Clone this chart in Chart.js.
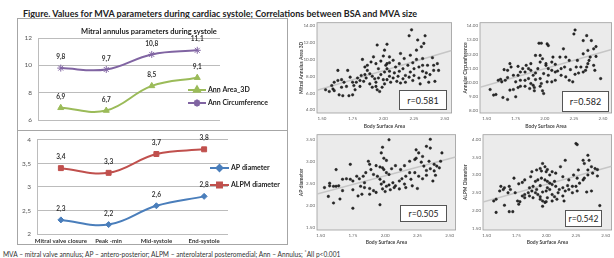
<!DOCTYPE html>
<html>
<head>
<meta charset="utf-8">
<script src="https://cdn.jsdelivr.net/npm/chart.js"></script>
<style>
  html, body { margin: 0; padding: 0; background: #fff; overflow: hidden; }
  body { width: 614px; height: 258px; position: relative; font-family: Lato, "Open Sans", sans-serif; }
  .abs { position: absolute; }
  canvas { position: absolute; }
  #title { left: 23px; top: 9px; font-size: 9px; line-height: 10px; font-weight: bold; color: #222; white-space: nowrap; }
  #note { left: 3px; top: 250px; font-size: 6.6px; line-height: 8px; color: #333; white-space: nowrap; }
  #note sup { font-size: 5px; vertical-align: top; line-height: 5px; }
  .panel { border: 1px solid #a6a6a6; box-sizing: border-box; }
  .rbox { border: 1.5px solid #555; background: #fff; box-sizing: border-box; font-size: 9px; color: #222;
          display: flex; align-items: center; justify-content: center; }
</style>
</head>
<body>
<div id="title" class="abs">Figure. Values for MVA parameters during cardiac systole; Correlations between BSA and MVA size</div>

<div class="abs panel" style="left:17px;top:18px;width:271px;height:113px;"></div>
<div class="abs panel" style="left:17px;top:130px;width:271px;height:115px;"></div>
<canvas id="topLine" width="271" height="112" style="left:17px;top:18px;"></canvas>
<canvas id="bottomLine" width="271" height="115" style="left:17px;top:130px;"></canvas>

<canvas id="scAreaTL" width="160" height="114" style="left:296px;top:18px;"></canvas>
<canvas id="scCircTR" width="160" height="114" style="left:456px;top:18px;"></canvas>
<canvas id="scApBL" width="164" height="118" style="left:296px;top:130px;"></canvas>
<canvas id="scAlpmBR" width="160" height="118" style="left:456px;top:130px;"></canvas>

<div class="abs rbox" style="left:399px;top:90px;width:48px;height:20px;">r=0.581</div>
<div class="abs rbox" style="left:562px;top:91px;width:47px;height:21px;">r=0.582</div>
<div class="abs rbox" style="left:400px;top:205px;width:47px;height:17px;font-size:8.5px;">r=0.505</div>
<div class="abs rbox" style="left:565px;top:210px;width:37px;height:17px;font-size:8.5px;">r=0.542</div>

<div id="note" class="abs">MVA – mitral valve annulus; AP – antero-posterior; ALPM – anterolateral posteromedial; Ann – Annulus; <sup>*</sup>All p&lt;0.001</div>

<script>
// line charts
const stages = ['Mitral valve closure', 'Peak -min', 'Mid-systole', 'End-systole'];
const annArea3D = [6.9, 6.7, 8.5, 9.1];
const annCircumference = [9.8, 9.7, 10.8, 11.1];
const apDiameter = [2.3, 2.2, 2.6, 2.8];
const alpmDiameter = [3.4, 3.3, 3.7, 3.8];
const topTicks = [6, 8, 10, 12];
const bottomTicks = [2, 2.5, 3, 3.5, 4];

// scatter plots: [BSA, value]
const bsaTicks = [1.5, 1.75, 2.0, 2.25, 2.5];
const areaTicks = [4, 6, 8, 10, 12, 14];
const circTicks = [8, 9, 10, 11, 12, 13, 14];
const apTicks = [1.5, 2.0, 2.5, 3.0, 3.5];
const alpmTicks = [1.5, 2.0, 2.5, 3.0, 3.5, 4.0];

const areaPoints = [
  [2.23,13.5],[2.21,12.8],[2.34,12.8],[2.28,12.3],[2.33,11.9],[1.95,11.7],[2.03,11.8],[2.01,11.1],
  [2.14,10.7],[2.31,11.5],[2.27,11.1],[1.83,10.0],[1.90,9.7],[1.94,9.5],[1.98,9.8],[2.03,9.5],
  [2.05,9.6],[2.08,9.9],[1.63,8.7],[1.71,8.7],[1.87,8.7],[1.53,6.4],[1.56,6.2],[1.59,6.5],
  [1.60,7.3],[1.63,7.5],[1.66,7.6],[1.68,7.3],[1.73,7.9],[1.75,7.3],[1.76,6.9],[1.64,5.8],
  [1.67,5.7],[1.72,5.7],[1.75,5.8],[1.77,6.4],[1.81,6.8],[1.84,7.4],[1.86,7.8],[1.89,7.1],
  [1.91,6.7],[1.94,6.8],[1.95,6.4],[1.97,6.2],[1.99,6.7],[2.01,7.1],[2.03,7.6],[2.05,8.0],
  [2.08,7.8],[2.11,7.4],[2.14,7.2],[2.16,7.7],[2.18,8.1],[2.22,8.5],[2.25,8.1],[2.29,7.8],
  [2.32,8.6],[2.35,8.4],[2.38,8.2],[2.42,7.4],[2.41,9.3],[2.36,9.3],[2.40,10.2],[2.32,10.1],
  [2.27,10.0],[2.24,9.6],[2.20,9.3],[2.16,8.9],[2.13,8.6],[2.10,9.1],[2.09,8.4],[2.05,8.6],
  [2.03,8.9],[2.01,8.5],[1.98,8.2],[1.96,7.8],[1.93,7.7],[1.91,8.0],[1.89,8.3],[1.85,8.2],
  [1.82,8.1],[1.79,7.8],[1.78,7.3],[1.81,7.5],[1.70,6.8],[1.66,6.7],[1.60,6.3],[1.58,6.9],
  [1.94,7.3],[2.00,7.6],[2.06,7.3],[2.12,8.0],[2.18,7.3],[2.24,7.5],[2.30,7.1],[2.34,7.9],
  [2.37,7.3],[2.41,8.7],[2.44,9.5],[2.45,8.7],[2.29,9.1],[2.25,8.9],[2.21,7.9],[2.13,9.5],
  [2.05,10.3],[2.00,10.4],[1.92,10.3],[1.87,9.3],[1.85,9.1],[2.02,9.3],[1.96,8.9],[2.17,10.1],
  [2.22,10.5],[2.32,9.3]
];
const circPoints = [
  [1.53,9.51],[1.56,9.12],[1.58,9.16],[1.64,8.95],[1.68,8.81],[1.75,9.00],[1.70,9.47],[1.73,9.51],
  [1.77,9.65],[1.60,10.16],[1.62,10.23],[1.63,10.05],[1.66,10.16],[1.68,10.35],[1.73,10.51],[1.79,10.74],
  [1.83,10.74],[1.84,11.21],[1.88,11.33],[1.70,11.33],[1.77,10.51],[1.83,10.16],[1.86,10.28],[1.88,9.93],
  [1.90,9.81],[1.91,9.65],[1.96,9.74],[1.98,9.42],[1.99,9.23],[1.97,9.93],[1.96,10.28],[1.92,10.67],
  [1.94,10.98],[1.96,11.44],[1.98,11.67],[1.96,11.91],[1.92,11.91],[1.95,12.77],[1.97,12.77],[2.02,12.72],
  [2.03,12.60],[2.01,11.21],[2.03,10.98],[2.06,10.86],[2.09,10.74],[2.11,10.81],[2.14,10.98],[2.17,11.09],
  [2.16,12.37],[2.06,11.44],[2.09,11.28],[2.14,10.51],[2.18,10.40],[2.21,10.16],[2.24,10.05],[2.26,10.58],
  [2.29,10.67],[2.33,10.74],[2.35,10.86],[2.37,11.33],[2.38,11.56],[2.39,11.79],[2.33,12.02],[2.37,12.26],
  [2.42,12.37],[2.44,12.53],[2.40,12.95],[2.33,12.95],[2.36,13.30],[2.26,13.70],[2.25,13.42],[2.44,11.84],
  [2.48,10.28],[2.43,10.86],[2.36,11.09],[2.31,11.09],[2.27,11.09],[2.22,10.91],[1.92,10.21],[1.86,10.98],
  [1.81,10.98],[1.79,10.16],[1.75,10.05],[1.90,10.51],[1.99,10.63],[2.03,10.51],[2.06,10.05],[2.09,10.16],
  [2.02,10.05],[1.87,9.58],[1.91,9.42],[1.83,9.74],[1.79,9.74],[1.65,10.91],[1.68,10.86],[1.71,11.09],
  [1.77,11.14],[1.88,10.86],[2.01,11.33],[2.07,11.79],[2.13,11.79],[2.18,11.79],[2.21,11.56],[2.28,11.56],
  [2.42,11.21]
];
const apPoints = [
  [2.03,3.49],[2.35,3.50],[2.32,3.34],[2.24,3.26],[2.29,3.11],[2.35,3.30],[1.98,3.32],[1.97,3.19],
  [1.99,3.07],[2.01,3.02],[1.87,3.00],[1.88,2.93],[1.93,2.90],[1.96,2.87],[1.98,2.85],[1.99,2.81],
  [2.01,2.74],[2.03,2.70],[2.05,2.83],[2.08,2.90],[2.12,2.81],[2.15,2.90],[2.19,3.00],[2.23,3.04],
  [2.26,3.19],[2.28,2.98],[2.30,2.89],[2.32,2.79],[2.35,2.83],[2.38,2.93],[2.40,2.89],[2.42,2.85],
  [2.43,3.00],[2.34,3.00],[2.24,3.07],[2.39,2.68],[2.37,2.55],[2.32,2.68],[2.26,2.66],[2.23,2.74],
  [2.19,2.74],[2.16,2.66],[2.13,2.60],[2.11,2.55],[2.08,2.44],[2.06,2.51],[2.03,2.46],[2.01,2.43],
  [1.99,2.53],[1.97,2.48],[1.96,2.59],[1.94,2.66],[1.91,2.70],[1.89,2.81],[1.85,2.74],[1.83,2.66],
  [1.80,2.60],[1.78,2.66],[1.75,2.55],[1.73,2.59],[1.70,2.60],[1.67,2.59],[1.64,2.44],[1.62,2.43],
  [1.60,2.43],[1.57,2.44],[1.53,2.40],[1.57,2.50],[1.62,2.81],[1.73,2.93],[1.81,2.43],[1.84,2.51],
  [1.88,2.38],[1.91,2.33],[1.93,2.29],[1.98,2.37],[2.00,2.31],[2.04,2.35],[2.07,2.40],[2.16,2.40],
  [2.21,2.44],[2.25,2.38],[1.88,2.25],[1.82,2.25],[1.75,2.35],[1.67,2.33],[1.65,2.14],[1.60,2.05],
  [1.56,2.20],[1.75,1.93],[1.96,2.01],[1.79,2.21],[1.84,2.40],[2.11,2.37],[2.15,2.48],[2.20,2.59],
  [2.29,2.60],[2.38,2.78],[2.44,3.19]
];
const alpmPoints = [
  [2.25,3.88],[2.26,3.85],[2.35,3.55],[2.36,3.41],[2.31,3.41],[2.32,3.32],[2.16,3.41],[2.12,3.23],
  [1.97,3.32],[1.99,3.23],[1.95,3.18],[2.01,3.15],[1.96,3.11],[2.00,3.09],[1.92,3.14],[1.88,3.09],
  [2.05,3.09],[2.08,3.05],[2.03,3.00],[2.38,3.23],[2.41,3.18],[2.43,3.15],[2.35,3.14],[2.27,3.14],
  [2.23,3.00],[2.26,2.91],[2.31,2.86],[2.35,3.00],[2.39,3.05],[2.43,2.97],[2.32,2.91],[2.28,2.77],
  [2.25,2.68],[2.38,2.55],[2.45,2.14],[2.34,2.52],[2.22,2.68],[2.18,2.70],[2.14,2.64],[2.11,2.59],
  [2.08,2.68],[2.05,2.73],[2.03,2.77],[2.01,2.82],[1.99,2.86],[1.96,2.91],[1.93,2.86],[1.91,2.82],
  [1.89,2.68],[1.86,2.64],[1.87,2.95],[1.82,2.86],[1.80,2.79],[1.77,2.75],[1.73,2.91],[1.69,2.68],
  [1.65,2.64],[1.62,2.68],[1.64,2.59],[1.68,2.50],[1.61,2.55],[1.58,2.32],[1.56,2.27],[1.58,1.95],
  [1.65,2.15],[1.69,1.97],[1.72,1.97],[1.76,2.27],[1.77,2.18],[1.80,2.41],[1.82,2.45],[1.85,2.50],
  [1.88,2.55],[1.91,2.50],[1.93,2.45],[1.95,2.39],[1.97,2.52],[2.00,2.55],[2.03,2.59],[2.05,2.45],
  [2.07,2.39],[2.10,2.50],[2.14,2.41],[2.16,2.55],[2.19,2.59],[2.22,2.50],[2.26,2.55],[1.97,2.27],
  [1.99,2.23],[2.00,2.25],[1.97,2.12],[2.01,2.36],[1.95,2.32],[1.89,2.36],[1.86,2.41],[1.82,2.36],
  [1.78,2.25],[1.74,2.50],[1.70,2.59],[2.05,2.27],[2.09,2.32],[2.15,2.27],[1.92,2.59],[1.95,2.70],
  [2.01,2.64],[2.07,2.82],[2.14,2.95],[2.19,2.86]
];
// fit lines, ends read at the frame edges
const areaFit = [[1.46, 6.35], [2.556, 11.06]];
const circFit = [[1.443, 9.67], [2.574, 12.33]];
const apFit = [[1.472, 2.254], [2.546, 3.097]];
const alpmFit = [[1.47, 2.242], [2.549, 3.243]];

Chart.defaults.font.family = 'Lato, "Open Sans", sans-serif';
const comma = v => String(v).replace('.', ',');

function excelExtras(legendX, legendLen, legendRows, title) {
  return {
    id: 'excelExtras',
    afterDatasetsDraw(chart) {
      const ctx = chart.ctx;
      ctx.save();
      ctx.textBaseline = 'middle';
      ctx.textAlign = 'center';
      ctx.font = 'bold 6.5px Lato';
      ctx.fillStyle = '#333';
      chart.data.datasets.forEach((ds, i) => {
        chart.getDatasetMeta(i).data.forEach((pt, j) => {
          ctx.fillText(comma(ds.data[j]), pt.x, pt.y - 11);
        });
      });
      legendRows.forEach((y, i) => {
        const ds = chart.data.datasets[i];
        ctx.strokeStyle = ds.borderColor;
        ctx.lineWidth = 2;
        ctx.beginPath();
        ctx.moveTo(legendX, y);
        ctx.lineTo(legendX + legendLen, y);
        ctx.stroke();
        ctx.fillStyle = ds.pointBackgroundColor;
        ctx.strokeStyle = ds.pointBorderColor;
        Chart.helpers.drawPoint(ctx, {pointStyle: ds.pointStyle, radius: ds.pointRadius,
          borderWidth: ds.pointBorderWidth, rotation: 0}, legendX + legendLen / 2, y);
        ctx.fillStyle = '#222';
        ctx.textAlign = 'left';
        ctx.font = 'bold 7px Lato';
        ctx.fillText(ds.label, legendX + legendLen + 2, y);
      });
      if (title) {
        ctx.textAlign = 'center';
        ctx.font = 'bold 7.5px Lato';
        ctx.fillStyle = '#222';
        ctx.fillText(title.text, title.x, title.y);
      }
      ctx.restore();
    }
  };
}

function lineSet(label, values, color, style, radius) {
  return {
    label: label, data: values, borderColor: color, borderWidth: 2, tension: 0.4,
    pointStyle: style, pointRadius: radius, pointBackgroundColor: color,
    pointBorderColor: color, pointBorderWidth: 1
  };
}

new Chart(document.getElementById('topLine'), {
  type: 'line',
  data: {
    labels: stages,
    datasets: [
      lineSet('Ann Area_3D', annArea3D, '#9bbb59', 'triangle', 3.5),
      lineSet('Ann Circumference', annCircumference, '#8064a2', 'star', 3.5)
    ]
  },
  options: {
    responsive: false, animation: false, devicePixelRatio: 1,
    layout: { padding: { top: 20, right: 68, bottom: 8, left: 0 } },
    plugins: { legend: { display: false }, tooltip: { enabled: false } },
    scales: {
      x: { display: false, offset: true },
      y: {
        min: 6, max: 12,
        afterBuildTicks: s => { s.ticks = topTicks.map(v => ({ value: v })); },
        afterFit: s => { s.width = 21; },
        grid: { color: '#bcbcbc', drawTicks: false },
        border: { color: '#bcbcbc' },
        ticks: { font: { size: 6.5 }, color: '#555', padding: 6, callback: v => comma(v) }
      }
    }
  },
  plugins: [excelExtras(171, 18, [72, 85], { text: 'Mitral annulus parameters during systole', x: 132, y: 14 })]
});

new Chart(document.getElementById('bottomLine'), {
  type: 'line',
  data: {
    labels: stages,
    datasets: [
      lineSet('AP diameter', apDiameter, '#4a7ebb', 'rectRot', 3),
      lineSet('ALPM diameter', alpmDiameter, '#c0504d', 'rect', 3.5)
    ]
  },
  options: {
    responsive: false, animation: false, devicePixelRatio: 1,
    layout: { padding: { top: 5, right: 60, bottom: 0, left: 0 } },
    plugins: { legend: { display: false }, tooltip: { enabled: false } },
    scales: {
      x: {
        offset: true,
        afterFit: s => { s.height = 11; },
        grid: { display: false, drawTicks: false },
        border: { display: false },
        ticks: { font: { size: 6, weight: 'bold' }, color: '#333', padding: 3, maxRotation: 0, autoSkip: false }
      },
      y: {
        min: 2, max: 4,
        afterBuildTicks: s => { s.ticks = bottomTicks.map(v => ({ value: v })); },
        afterFit: s => { s.width = 20; },
        grid: { color: '#bcbcbc', drawTicks: false },
        border: { color: '#bcbcbc' },
        ticks: { font: { size: 6.5 }, color: '#555', padding: 6, callback: v => comma(v) }
      }
    }
  },
  plugins: [excelExtras(193, 19, [38, 55], null)]
});

const frame = {
  id: 'frame',
  beforeDraw(chart) {
    const { ctx, chartArea: a } = chart;
    ctx.save();
    ctx.fillStyle = '#ebebeb';
    ctx.fillRect(a.left, a.top, a.width, a.height);
    ctx.strokeStyle = '#9c9c9c';
    ctx.lineWidth = 0.8;
    ctx.strokeRect(a.left, a.top, a.width, a.height);
    ctx.restore();
  }
};

function scatterChart(id, points, fit, yTicks, xRange, yRange, yTitle, geo) {
  new Chart(document.getElementById(id), {
    type: 'scatter',
    data: {
      datasets: [
        { type: 'line', data: fit.map(p => ({ x: p[0], y: p[1] })), borderColor: '#c6c6c6',
          borderWidth: 1.5, pointRadius: 0, order: 2 },
        { data: points.map(p => ({ x: p[0], y: p[1] })), pointRadius: 1.3,
          backgroundColor: '#2a2a2a', borderColor: '#111', borderWidth: 0.4, order: 1 }
      ]
    },
    options: {
      responsive: false, animation: false, devicePixelRatio: 1,
      layout: { padding: { top: geo.top, right: geo.right, bottom: 0, left: 0 } },
      plugins: { legend: { display: false }, tooltip: { enabled: false } },
      scales: {
        x: {
          type: 'linear', min: xRange[0], max: xRange[1],
          afterBuildTicks: s => { s.ticks = bsaTicks.map(v => ({ value: v })); },
          afterFit: s => { s.height = geo.xh; },
          grid: { display: false, drawTicks: false }, border: { display: false },
          ticks: { font: { size: 4.5 }, color: '#666', padding: 2.5, maxRotation: 0, autoSkip: false,
                   callback: v => v.toFixed(2) },
          title: { display: true, text: 'Body Surface Area', font: { size: 5, weight: 'bold' }, color: '#444',
                   padding: { top: 0, bottom: 3 } }
        },
        y: {
          type: 'linear', min: yRange[0], max: yRange[1],
          afterBuildTicks: s => { s.ticks = yTicks.map(v => ({ value: v })); },
          afterFit: s => { s.width = geo.yw; },
          grid: { display: false, drawTicks: false }, border: { display: false },
          ticks: { font: { size: 4.5 }, color: '#666', padding: 2, callback: v => v.toFixed(2) },
          title: { display: true, text: yTitle, font: { size: 5, weight: 'bold' }, color: '#444',
                   padding: { top: geo.tp, bottom: 0 } }
        }
      }
    },
    plugins: [frame]
  });
}

scatterChart('scAreaTL', areaPoints, areaFit, areaTicks, [1.46, 2.556], [3.65, 14.35],
  'Mitral Annulus Area 3D', { top: 4, right: 3, xh: 19, yw: 21, tp: 2 });
scatterChart('scCircTR', circPoints, circFit, circTicks, [1.443, 2.574], [7.86, 14.21],
  'Annular Circumference', { top: 4, right: 0, xh: 19, yw: 24, tp: 6 });
scatterChart('scApBL', apPoints, apFit, apTicks, [1.472, 2.546], [1.434, 3.605],
  'AP diameter', { top: 3, right: 3, xh: 18, yw: 21, tp: 2 });
scatterChart('scAlpmBR', alpmPoints, alpmFit, alpmTicks, [1.47, 2.549], [1.456, 4.128],
  'ALPM Diameter', { top: 2, right: 0, xh: 18, yw: 27, tp: 6 });
</script>
</body>
</html>
